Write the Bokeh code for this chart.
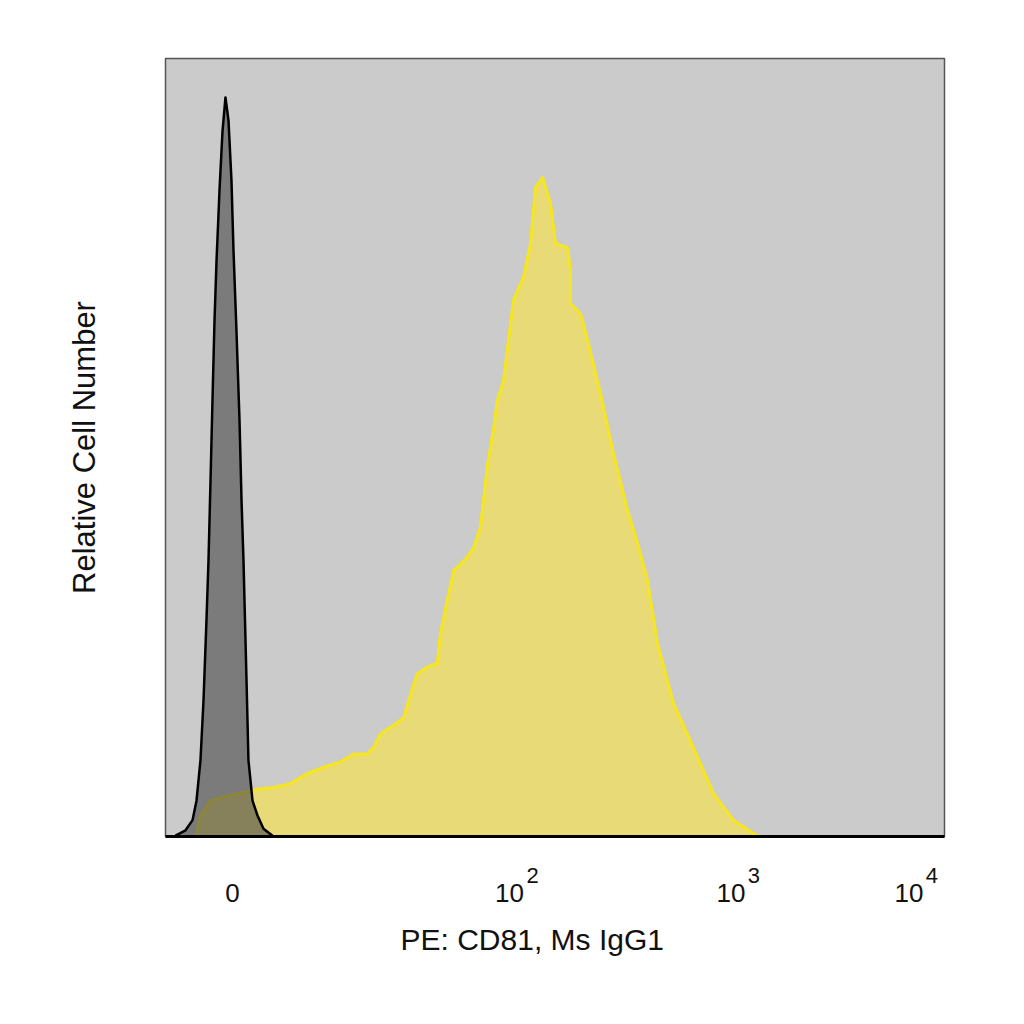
from bokeh.plotting import figure
from bokeh.models import Range1d, FixedTicker, LinearAxis, Title
from bokeh.embed import file_html
from bokeh.resources import INLINE

# ---- data (display-channel units on x, relative count on y) ----
tick_positions = [86.0, 441.6, 725.9, 954.4]
tick_bases = ["0", "10", "10", "10"]
tick_exponents = ["", "2", "3", "4"]
x_title = "PE: CD81, Ms IgG1"
y_title = "Relative Cell Number"

# CD81 (PE) sample histogram outline
cd81_x = [38.5, 44.9, 57.8, 83.4, 119.8, 139.0, 160.5, 181.9, 203.2, 224.6, 241.7,
          258.9, 267.4, 276.0, 293.1, 306.0, 314.6, 323.1, 335.9, 348.8, 353.0,
          361.6, 370.1, 387.3, 395.8, 404.4, 413.0, 421.5, 425.8, 433.9, 446.7,
          459.6, 468.6, 475.0, 484.0, 494.2, 500.6, 516.0, 519.9, 519.9, 532.7,
          541.7, 558.4, 575.1, 593.1, 605.9, 618.7, 631.6, 652.1, 677.8, 703.5,
          729.1, 754.8, 763.8]
cd81_y = [0.0, 2.7, 4.6, 5.3, 6.1, 6.3, 6.8, 8.1, 8.9, 9.6, 10.6,
          10.6, 11.5, 13.2, 14.3, 15.3, 18.3, 20.9, 21.8, 22.2, 26.1,
          30.3, 34.2, 35.9, 37.2, 39.8, 47.5, 52.6, 56.0, 58.6, 68.9,
          71.9, 76.2, 83.4, 84.7, 81.4, 76.2, 75.7, 72.8, 68.5, 67.2,
          63.8, 56.9, 49.2, 41.9, 37.7, 32.9, 24.8, 17.1, 11.4, 5.5,
          2.1, 0.4, 0.0]

# Isotype control (Ms IgG1) histogram outline
iso_x = [12.8, 25.7, 34.7, 39.8, 44.9, 48.8, 52.6, 55.2, 57.8, 60.3, 62.9, 65.5,
         69.3, 73.2, 77.0, 80.9, 84.7, 87.3, 91.1, 95.0, 97.6, 100.1, 104.0,
         106.5, 111.7, 118.1, 125.8, 137.4]
iso_y = [0.1, 0.8, 2.1, 4.6, 9.8, 17.5, 27.8, 35.5, 45.8, 56.0, 66.3, 74.0,
         83.0, 90.7, 95.0, 92.0, 84.3, 75.3, 65.0, 53.5, 43.2, 35.5, 20.1,
         9.8, 4.6, 2.7, 1.0, 0.1]

FONT = "Liberation Sans"
X_MIN, X_MAX = 0, 1000
PX_PER_UNIT = 779 / (X_MAX - X_MIN)      # frame width / data span
EXP_SHIFT = 23 / PX_PER_UNIT             # exponent sits ~23 px right of the base

p = figure(width=1000, height=1000, output_backend="svg", toolbar_location=None,
           x_range=Range1d(X_MIN, X_MAX), y_range=Range1d(0, 100),
           min_border_left=165, min_border_right=56, min_border_top=58,
           min_border_bottom=164, x_axis_location=None)

p.background_fill_color = "#cbcbcb"
p.border_fill_color = "white"
p.outline_line_color = "#555555"
p.outline_line_width = 1.5
p.xgrid.grid_line_color = None
p.ygrid.grid_line_color = None

# sample histogram
cx = [cd81_x[0]] + cd81_x + [cd81_x[-1]]
cy = [0] + cd81_y + [0]
p.patch(cx, cy, fill_color="#e8da76", line_color=None)
p.line(cd81_x, cd81_y, line_color="#f6e61e", line_width=3, line_join="round")

# isotype control histogram
ix = [iso_x[0]] + iso_x + [iso_x[-1]]
iy = [0] + iso_y + [0]
p.patch(ix, iy, fill_color="#4a4a4a", fill_alpha=0.62, line_color=None)
p.line(iso_x, iso_y, line_color="black", line_width=2.5, line_join="round")

# inner x axis: carries the baseline and the decade exponents
exp_pos = [t + EXP_SHIFT for t, e in zip(tick_positions, tick_exponents) if e]
exp_txt = [e for e in tick_exponents if e]
xa_exp = LinearAxis(ticker=FixedTicker(ticks=exp_pos),
                    major_label_overrides={t: e for t, e in zip(exp_pos, exp_txt)})
xa_exp.major_tick_line_color = None
xa_exp.minor_tick_line_color = None
xa_exp.axis_line_color = "black"
xa_exp.axis_line_width = 3
xa_exp.major_label_text_font = FONT
xa_exp.major_label_text_font_size = "22px"
xa_exp.major_label_text_color = "#111111"
xa_exp.major_label_standoff = 25
p.add_layout(xa_exp, "below")

# outer x axis: the decade bases
xa = LinearAxis(ticker=FixedTicker(ticks=tick_positions),
                major_label_overrides={t: b for t, b in zip(tick_positions, tick_bases)})
xa.major_tick_line_color = None
xa.minor_tick_line_color = None
xa.axis_line_color = None
xa.major_label_text_font = FONT
xa.major_label_text_font_size = "26px"
xa.major_label_text_color = "#111111"
xa.major_label_standoff = -8
p.add_layout(xa, "below")

# x title (left of the frame centre, as in the original)
p.add_layout(Title(text=x_title, align="left", offset=235, standoff=33,
                   text_font=FONT, text_font_size="30px", text_font_style="normal",
                   text_color="#111111"), "below")

# y axis
ya = p.yaxis[0]
ya.ticker = FixedTicker(ticks=[])
ya.major_tick_line_color = None
ya.minor_tick_line_color = None
ya.major_label_text_font_size = "0px"
ya.axis_line_color = None
ya.axis_label = y_title
ya.axis_label_text_font = FONT
ya.axis_label_text_font_size = "31px"
ya.axis_label_text_font_style = "normal"
ya.axis_label_text_color = "#111111"
ya.axis_label_standoff = 64

open("out.html", "w").write(file_html(p, INLINE))
